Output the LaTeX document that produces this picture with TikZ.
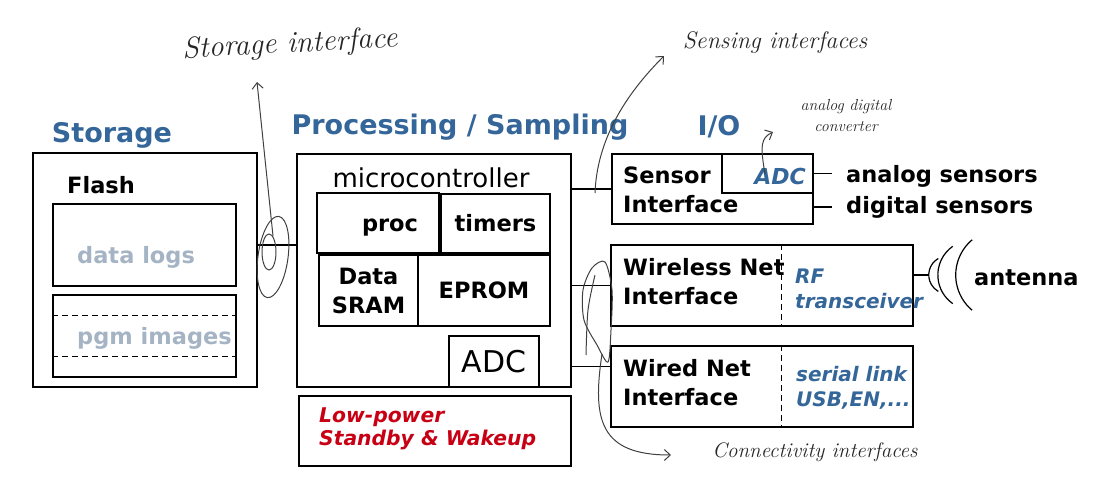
\documentclass[tikz,border=0pt]{standalone}
\usepackage{fontspec}
\setsansfont{DejaVu Sans}
\usetikzlibrary{positioning,arrows.meta}

\definecolor{headblue}{RGB}{52,102,153}
\definecolor{softgray}{RGB}{165,180,196}
\definecolor{alertred}{RGB}{200,0,20}

\begin{document}
\begin{tikzpicture}[x=1pt,y=-1pt,
	box/.style={draw, line width=1.5pt, inner sep=0pt},
	wire/.style={line width=1.5pt},
	lbl/.style={font=\sffamily\bfseries\fontsize{22.5}{29}\selectfont, align=left, inner sep=0pt},
	plain/.style={font=\sffamily\fontsize{26}{30}\selectfont, inner sep=0pt},
	head/.style={font=\sffamily\bfseries\fontsize{27}{32}\selectfont, text=headblue, inner sep=0pt},
	tag/.style={font=\sffamily\bfseries\itshape\fontsize{20}{25}\selectfont, text=headblue, align=left, inner sep=0pt},
	splitline/.style={line width=1.2pt, dash pattern=on 6pt off 4pt},
	hand/.style={draw=black!75, line width=1pt, >={Straight Barb[length=6pt,width=11pt]}},
	note/.style={font=\rmfamily\itshape, text=black!85, align=center, inner sep=0pt}]
	\useasboundingbox (0,0) rectangle (1106,482);

	%Storage
	\node[head] (storehead) at (112,135) {Storage};
	\node[box, minimum width=224pt, minimum height=234pt] (storage) at (145,270) {};
	\node[lbl, anchor=west] (flash) at (67,185) {Flash};
	\node[box, minimum width=183pt, minimum height=82pt] (logs) at (144.5,245) {};
	\node[lbl, text=softgray, anchor=west] (logstext) at (77,257) {data logs};
	\node[box, minimum width=183pt, minimum height=82pt] (pgm) at (144.5,336) {};
	\draw[splitline] ([yshift=-21pt]pgm.north west) -- ([yshift=-21pt]pgm.north east);
	\draw[splitline] ([yshift=21pt]pgm.south west) -- ([yshift=21pt]pgm.south east);
	\node[lbl, text=softgray, anchor=west] (pgmtext) at (77,338) {pgm images};

	%Processing / Sampling
	\node[head] (prochead) at (460,127) {Processing / Sampling};
	\node[box, minimum width=274pt, minimum height=233pt] (mcu) at (434,270.5) {};
	\node[plain] (mcutext) at (431,178) {microcontroller};
	\node[box, minimum width=122pt, minimum height=60pt] (proc) at (378,223) {};
	\node[lbl] (proctext) at (390,228) {proc};
	\node[box, lbl, minimum width=109pt, minimum height=59pt] (timers) at (495.5,223.5) {timers};
	\node[box, lbl, align=center, minimum width=99pt, minimum height=71pt] (sram) at (368.5,290.5) {Data\\SRAM};
	\node[box, lbl, minimum width=132pt, minimum height=71pt] (eprom) at (484,290.5) {EPROM};
	\node[box, plain, font=\sffamily\fontsize{30}{34}\selectfont, minimum width=90pt, minimum height=51pt] (madc) at (494,361.5) {ADC};
	\node[box, minimum width=272pt, minimum height=70pt] (lowpower) at (435,431) {};
	\node[tag, text=alertred, anchor=west, font=\sffamily\bfseries\itshape\fontsize{20.3}{23}\selectfont] (lowtext) at (319,428.5) {Low-power\\Standby \& Wakeup};

	%I/O
	\node[head] (iohead) at (719,127) {I/O};
	\node[box, minimum width=201pt, minimum height=70pt] (sensor) at (712.5,189) {};
	\node[box, minimum width=91pt, minimum height=39pt] (sadc) at (767.5,173.5) {};
	\node[lbl, anchor=west] (sensortext) at (623,190) {Sensor\\Interface};
	\node[tag, font=\sffamily\bfseries\itshape\fontsize{22}{26}\selectfont] (sadctext) at (780,176) {ADC};
	\node[lbl, anchor=west, inner xsep=14pt] (analog) at (832,176) {analog sensors};
	\node[lbl, anchor=west, inner xsep=14pt] (digital) at (832,207) {digital sensors};
	\draw[wire] (sadc.east) -- (sadc.east -| analog.west);
	\draw[wire] (sensor.east |- digital.west) -- (digital.west);

	\node[box, minimum width=302pt, minimum height=81pt] (wireless) at (762,285.5) {};
	\draw[splitline] ([xshift=171pt]wireless.north west) -- ([xshift=171pt]wireless.south west);
	\node[lbl, anchor=west] (wirelesstext) at (623,282) {Wireless Net\\Interface};
	\node[tag, anchor=west] (rftext) at (795,289) {RF\\transceiver};
	\draw[wire] ([yshift=10.5pt]wireless.east) -- ++(15,0) coordinate (antfoot);
	\draw[line width=1.2pt] (antfoot) ++(9.5,-16.5) arc[start angle=240, end angle=120, radius=19];
	\draw[line width=1.2pt] (antfoot) ++(24,-28.7) arc[start angle=235, end angle=125, radius=35];
	\draw[line width=1.2pt] (antfoot) ++(43.4,-35.2) arc[start angle=230, end angle=130, radius=46];
	\node[lbl, anchor=west] (antenna) at (974,278) {antenna};

	\node[box, minimum width=302pt, minimum height=81pt] (wired) at (762,386.5) {};
	\draw[splitline] ([xshift=171pt]wired.north west) -- ([xshift=171pt]wired.south west);
	\node[lbl, anchor=west] (wiredtext) at (623,383) {Wired Net\\Interface};
	\node[tag, anchor=west] (serialtext) at (796,388) {serial link\\USB,EN,...};

	%links
	\coordinate (storelink) at ([yshift=25pt]storage.east);
	\coordinate (wiredlink) at ([yshift=20pt]wired.west);
	\draw[wire] (storelink) -- (storelink -| mcu.west);
	\draw[wire] (mcu.east |- sensor.west) -- (sensor.west);
	\draw[wire] (mcu.east |- wireless.west) -- (wireless.west);
	\draw[wire] (mcu.east |- wiredlink) -- (wiredlink);

	%hand notes
	\node[note, font=\rmfamily\itshape\fontsize{30}{34}\selectfont, rotate=3] (storenote) at (290,45) {Storage interface};
	\coordinate (storetip) at (257,82);
	\coordinate (storeroot) at (273,236);
	\draw[hand, rotate around={-8:(273,257)}] (273,257) ellipse [x radius=15, y radius=41];
	\draw[hand] (269,252) ellipse [x radius=7, y radius=18];
	\draw[hand,->] (storeroot) -- (storetip);

	\node[note, font=\rmfamily\itshape\fontsize{24}{28}\selectfont] (sensenote) at (775,42) {Sensing interfaces};
	\coordinate (senseroot) at (595,193);
	\coordinate (sensetip) at (664,56);
	\draw[hand,->] (senseroot) .. controls (597,140) and (625,95) .. (sensetip);

	\node[note, font=\rmfamily\itshape\fontsize{16}{21}\selectfont] (adcnote) at (846,116) {analog digital\\converter};
	\coordinate (adcroot) at (765,174);
	\coordinate (adctip) at (773,132);
	\draw[hand,->] (adcroot) .. controls (760,145) and (761,138) .. (adctip);

	\node[note, font=\rmfamily\itshape\fontsize{21}{24}\selectfont] (connote) at (815,452) {Connectivity interfaces};
	\coordinate (conroot) at (602,354);
	\coordinate (contip) at (671,455);
	\draw[hand] plot[smooth cycle] coordinates {(605,262) (612,290) (611,330) (608,362) (597,345) (584,320) (583,290) (592,268)};
	\draw[hand] plot[smooth] coordinates {(595,275) (588,310) (586,355)};
	\draw[hand,->] (conroot) .. controls (592,420) and (600,455) .. (contip);
\end{tikzpicture}
\end{document}
